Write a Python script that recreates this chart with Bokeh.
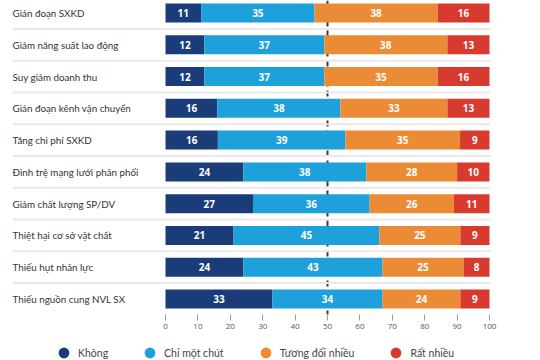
import numpy as np
from bokeh.plotting import figure
from bokeh.layouts import column
from bokeh.models import ColumnDataSource, Range1d, Span, FixedTicker, Legend, LegendItem
from bokeh.core.properties import value
from bokeh.embed import file_html
from bokeh.resources import INLINE

categories = ["Gián đoạn SXKD", "Giảm năng suất lao động", "Suy giảm doanh thu",
              "Gián đoạn kênh vận chuyển", "Tăng chi phí SXKD", "Đình trệ mạng lưới phân phối",
              "Giảm chất lượng SP/DV", "Thiệt hại cơ sở vật chất", "Thiếu hụt nhân lực",
              "Thiếu nguồn cung NVL SX"]
khong = [11, 12, 12, 16, 16, 24, 27, 21, 24, 33]
mot_chut = [35, 37, 37, 38, 39, 38, 36, 45, 43, 34]
tuong_doi = [38, 38, 35, 33, 35, 28, 26, 25, 25, 24]
rat_nhieu = [16, 13, 16, 13, 9, 10, 11, 9, 8, 9]
series_names = ["Không", "Chỉ một chút", "Tương đối nhiều", "Rất nhiều"]
colors = ["#1a3c78", "#1ea0da", "#ec8b36", "#d93a30"]
ticks = [0, 10, 20, 30, 40, 50, 60, 70, 80, 90, 100]

FONT = "Lato"

p = figure(width=540, height=334, x_range=Range1d(-50.93, 115.74), y_range=Range1d(9.488, -0.393),
           output_backend="svg", toolbar_location=None, y_axis_location=None,
           min_border_left=0, min_border_right=0, min_border_top=0, min_border_bottom=20)
p.outline_line_color = None
p.grid.visible = False
p.background_fill_color = "white"

rows = list(range(len(categories)))
series = [khong, mot_chut, tuong_doi, rat_nhieu]
totals = np.sum(np.array(series), axis=0)

# separators
seps = [r + 0.5 for r in rows[:-1]]
p.segment(x0=-47.2, x1=100.3, y0=seps, y1=seps, line_color="#e9e9e9", line_width=2)

p.add_layout(Span(location=50, dimension="height", line_color="#3a3a3a", line_width=2,
                  line_dash="6 4", level="underlay"))

cum = np.zeros(len(rows))
for vals, col in zip(series, colors):
    v = np.array(vals, dtype=float) / totals * 100
    left = cum.copy()
    right = cum + v
    src = ColumnDataSource(dict(y=rows, l=left, r=right, m=(left + right) / 2,
                                t=[str(x) for x in vals]))
    p.hbar(y="y", left="l", right="r", height=0.598, fill_color=col, line_color=None, source=src)
    p.text(x="m", y="y", text="t", source=src, text_align="center", text_baseline="middle",
           text_color="white", text_font_size="10px", text_font_style="bold",
           text_font=value("Open Sans"))
    cum = right

p.text(x=-47.2, y=rows, text=categories, text_align="left", text_baseline="middle",
       text_color="#333333", text_font_size="9.8px", text_font=value(FONT))

ax = p.xaxis[0]
ax.ticker = FixedTicker(ticks=ticks)
ax.axis_line_color = None
ax.major_tick_line_color = "#9a9a9a"
ax.major_tick_in = 0
ax.major_tick_out = 6
ax.minor_tick_line_color = None
ax.major_label_text_font_size = "8px"
ax.major_label_text_color = "#555555"
ax.major_label_text_font = "Open Sans"
ax.major_label_standoff = 3

# legend strip
lf = figure(width=540, height=26, x_range=Range1d(0, 1), y_range=Range1d(0, 1),
            output_backend="svg", toolbar_location=None, x_axis_location=None,
            y_axis_location=None, min_border=0)
lf.outline_line_color = None
lf.grid.visible = False
items = []
for name, col in zip(series_names, colors):
    # hidden placeholder point (outside the visible range) so the legend draws its swatch
    r = lf.scatter(x=[-5], y=[-5], size=11, fill_color=col, line_color=None)
    items.append(LegendItem(label=name, renderers=[r]))
legend = Legend(items=items, orientation="horizontal", location=(50, -6),
                glyph_width=27, glyph_height=27, label_standoff=1, label_text_font_size="10.5px",
                label_text_color="#444444", label_text_font=FONT, spacing=28, padding=0, margin=0,
                border_line_color=None, background_fill_alpha=0)
lf.add_layout(legend, "center")

open("out.html", "w").write(file_html(column(p, lf, spacing=0), INLINE))
